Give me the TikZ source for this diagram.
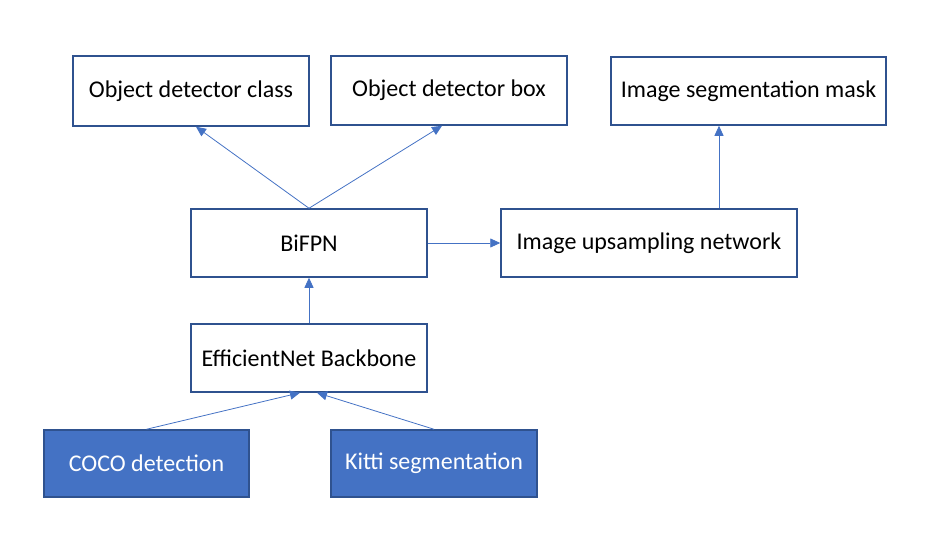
\documentclass[tikz,border=0pt]{standalone}
\usepackage{fontspec}
\setmainfont{Carlito}
\usetikzlibrary{arrows.meta}
\definecolor{boxline}{HTML}{2F528F}
\definecolor{accent}{HTML}{4472C4}
\tikzset{
  plainbox/.style={draw=boxline, line width=1.5pt, fill=white, minimum height=68pt, inner sep=0pt, font=\fontsize{24}{28}\selectfont, text=black},
  filledbox/.style={plainbox, fill=accent, text=white},
  conn/.style={draw=accent, line width=0.8pt, -{Triangle[length=10pt,width=9pt]}}
}
\begin{document}
\begin{tikzpicture}[x=1pt,y=-1pt]
\useasboundingbox (0,0) rectangle (926,544);
\node[plainbox, minimum width=236pt, minimum height=70pt] (cls) at (191,91) {Object detector class};
\node[plainbox, minimum width=236pt, minimum height=69pt] (bx) at (449,90.5) {Object detector box};
\node[plainbox, minimum width=275pt] (mask) at (748.5,91) {Image segmentation mask};
\node[plainbox, minimum width=236pt] (bifpn) at (309,243) {BiFPN};
\node[plainbox, minimum width=296pt] (up) at (649,243) {Image upsampling network};
\node[plainbox, minimum width=236pt] (bb) at (309,358) {EfficientNet Backbone};
\node[filledbox, minimum width=205pt, minimum height=67pt] (coco) at (146.5,463.5) {COCO detection};
\node[filledbox, minimum width=206pt, minimum height=67pt] (kitti) at (434,463.5) {Kitti segmentation};
\coordinate (upout) at ([xshift=70pt]up.north);
\draw[conn] (bifpn.north) -- ([xshift=5pt]cls.south);
\draw[conn] (bifpn.north) -- ([xshift=-7pt]bx.south);
\draw[conn] (upout) -- (upout |- mask.south);
\draw[conn] (bifpn.east) -- (up.west);
\draw[conn] (bb.north) -- (bifpn.south);
\draw[conn] (coco.north) -- ([xshift=-9pt]bb.south);
\draw[conn] (kitti.north) -- ([xshift=8pt]bb.south);
\end{tikzpicture}
\end{document}
